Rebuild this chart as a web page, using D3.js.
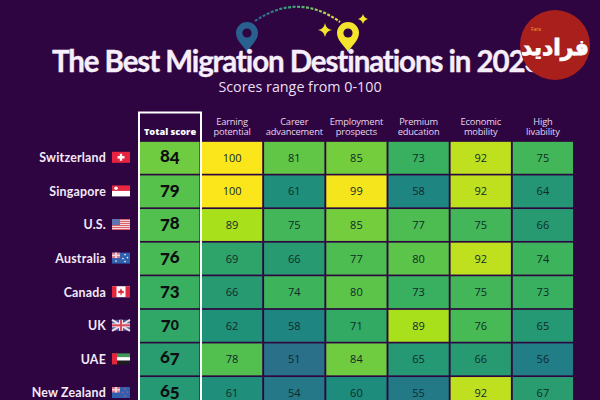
<!DOCTYPE html>
<html><head><meta charset="utf-8">
<script src="https://cdn.jsdelivr.net/npm/d3@7"></script>
<style>html,body{margin:0;padding:0;background:#2e0540;overflow:hidden}svg{display:block}text{font-family:"Open Sans",sans-serif}</style>
</head><body><svg id="c" width="600" height="400"></svg>
<script>
const countries=["Switzerland","Singapore","U.S.","Australia","Canada","UK","UAE","New Zealand"];
const flagCodes=["ch","sg","us","au","ca","uk","ae","nz"];
const totals=[84,79,78,76,73,70,67,65];
const headers=[["Earning","potential"],["Career","advancement"],["Employment","prospects"],["Premium","education"],["Economic","mobility"],["High","livability"]];
const earning=[100,100,89,69,66,62,78,61];
const career=[81,61,75,66,74,58,51,54];
const employment=[85,99,85,77,80,71,84,60];
const education=[73,58,77,80,73,89,65,55];
const mobility=[92,92,75,92,75,76,66,92];
const livability=[75,64,66,74,73,65,56,67];
const series=[earning,career,employment,education,mobility,livability];
const colorStops=[50,56,60,66,73,78,85,89,92,100];
const colorRange=["#2a6d88","#217d86","#1d8c7c","#279a72","#38b05f","#52c04e","#74cd3c","#a8e01c","#bfe01e","#fbe61c"];

const svg=d3.select("#c");
const bg="#2e0540";
const color=d3.scaleLinear().domain(colorStops).range(colorRange);
const y=d3.scaleBand().domain(countries).range([141,141+33.6*8]).paddingInner(0.05).paddingOuter(0.025);
const x=d3.scaleBand().domain(d3.range(6)).range([201,574]).paddingInner(0.03).paddingOuter(0.015);
const cx=d3.scaleBand().domain(["t"]).range([140,199.5]);

const pin=(px,fill)=>{
  const g=svg.append("g").attr("transform",`translate(${px},38)`);
  g.append("path").attr("d","M0,14 C-3,8 -11,3 -11,-5 A11,11 0 1 1 11,-5 C11,3 3,8 0,14Z").attr("fill",fill);
  g.append("circle").attr("cy",-5).attr("r",4.6).attr("fill",bg);
};
pin(247,"#28608f");pin(348,"#f5e42c");
const defs=svg.append("defs");
const lg=defs.append("linearGradient").attr("id","arc").attr("x1",0).attr("x2",1);
[["0","#28608f"],["0.5","#3fae7a"],["1","#f0e23a"]].forEach(s=>lg.append("stop").attr("offset",s[0]).attr("stop-color",s[1]));
svg.append("path").attr("d","M255,21 Q298,-8 340,22").attr("fill","none").attr("stroke","url(#arc)").attr("stroke-width",2.2).attr("stroke-dasharray","3 1.5");
const star=(sx,sy,r)=>svg.append("path").attr("transform",`translate(${sx},${sy})`).attr("fill","#f5e42c")
  .attr("d",`M0,${-r} Q1,-1 ${r},0 Q1,1 0,${r} Q-1,1 ${-r},0 Q-1,-1 0,${-r}Z`);
star(325,30,7);star(363,19,5);

svg.append("text").attr("x",52).attr("y",72).attr("font-size",29.5).attr("font-weight",700)
  .style("font-family","Lato,sans-serif").attr("letter-spacing",-1.1).attr("stroke","#f6eefa").attr("stroke-width",0.35).attr("fill","#f6eefa").text("The Best Migration Destinations in 2023");
svg.append("text").attr("x",300).attr("y",92).attr("text-anchor","middle").attr("font-size",14.3).attr("fill","#eadff2").text("Scores range from 0-100");

headers.forEach((h,i)=>{
  h.forEach((t,k)=>svg.append("text").attr("x",x(i)+x.bandwidth()/2).attr("y",124.5+k*10).attr("text-anchor","middle")
    .attr("font-size",9.3).attr("letter-spacing",-0.15).attr("fill","#e6d6f0").text(t));
});
svg.append("text").attr("x",170).attr("y",135).attr("text-anchor","middle").attr("font-size",9.2).attr("font-weight",800).attr("fill","#fff").text("Total score");

svg.append("g").selectAll("rect").data(countries).join("rect")
  .attr("x",cx("t")).attr("width",cx.bandwidth()).attr("y",d=>y(d)).attr("height",y.bandwidth())
  .attr("fill",(d,i)=>color(totals[i]));
// old-style numerals: each digit gets its own shift and size
const low="34579";
const small="012";
const tot=svg.append("g").selectAll("text").data(countries).join("text")
  .attr("x",cx("t")+cx.bandwidth()/2).attr("y",d=>y(d)+y.bandwidth()/2+4).attr("text-anchor","middle")
  .attr("font-size",17).attr("font-weight",900).style("font-family","Lato,sans-serif").attr("fill","#0d0d12");
tot.each(function(d,i){
  const t=d3.select(this);let shift=0;
  String(totals[i]).split("").forEach(ch=>{
    const target=low.includes(ch)?2:0;
    t.append("tspan").attr("dy",target-shift).attr("font-size",small.includes(ch)?14:17).text(ch);
    shift=target;
  });
});

series.forEach((vals,i)=>{
  const g=svg.append("g");
  g.selectAll("rect").data(vals).join("rect").attr("x",x(i)).attr("width",x.bandwidth())
    .attr("y",(d,r)=>y(countries[r])).attr("height",y.bandwidth()).attr("fill",d=>color(d));
  g.selectAll("text").data(vals).join("text").attr("x",x(i)+x.bandwidth()/2).attr("y",(d,r)=>y(countries[r])+y.bandwidth()/2+4)
    .attr("text-anchor","middle").attr("font-size",11).attr("fill","#0f2a2a").text(d=>d);
});

svg.append("rect").attr("x",139).attr("y",112.5).attr("width",62).attr("height",320).attr("fill","none").attr("stroke","#fff").attr("stroke-width",2);

svg.append("g").selectAll("text").data(countries).join("text").attr("x",106).attr("y",d=>y(d)+y.bandwidth()/2+4.4)
  .attr("text-anchor","end").attr("font-size",12.4).attr("font-weight",700).style("font-family","Lato,sans-serif").attr("letter-spacing",0.2).attr("fill","#f3e9f8").text(d=>d);

const flagH=11;
const flags={
  ch:f=>{rc(f,0,0,18,11,"#e8233f");rc(f,7.8,2,2.4,7,"#fff");rc(f,5.5,4.3,7,2.4,"#fff");},
  sg:f=>{rc(f,0,0,18,5.5,"#e8283f");rc(f,0,5.5,18,5.5,"#fff");f.append("circle").attr("cx",4).attr("cy",2.8).attr("r",1.8).attr("fill","#fff");},
  us:f=>{rc(f,0,0,18,11,"#f3d5d8");d3.range(0,6).forEach(k=>rc(f,0,k*2,18,1,"#d9606c"));rc(f,0,0,8,6,"#5f72b0");},
  au:f=>{rc(f,0,0,18,11,"#2f5fae");rc(f,0,0,8,5.5,"#d97a90");rc(f,3,0,2,5.5,"#f3d5d8");rc(f,0,2,8,1.5,"#f3d5d8");[[13,2],[15.5,5],[11,6],[13,9],[4,8.5]].forEach(p=>f.append("circle").attr("cx",p[0]).attr("cy",p[1]).attr("r",.8).attr("fill","#fff"));},
  ca:f=>{rc(f,0,0,18,11,"#fff");rc(f,0,0,4.5,11,"#e3263c");rc(f,13.5,0,4.5,11,"#e3263c");f.append("path").attr("d","M9,2 L10.5,5 L12,4.5 L11.5,7 L9.5,7 L9.5,9 L8.5,9 L8.5,7 L6.5,7 L6,4.5 L7.5,5Z").attr("fill","#e3263c");},
  uk:f=>{rc(f,0,0,18,11,"#4a5a9e");f.append("path").attr("d","M0,0L18,11M18,0L0,11").attr("stroke","#f0dfe6").attr("stroke-width",2);rc(f,7,0,4,11,"#f0dfe6");rc(f,0,3.5,18,4,"#f0dfe6");rc(f,8,0,2,11,"#d8485c");rc(f,0,4.5,18,2,"#d8485c");},
  ae:f=>{rc(f,0,0,18,3.7,"#3f9a5a");rc(f,0,3.7,18,3.6,"#fff");rc(f,0,7.3,18,3.7,"#1c1c1c");rc(f,0,0,5,11,"#e3263c");},
  nz:f=>{rc(f,0,0,18,11,"#2f5fae");rc(f,0,0,8,5.5,"#d97a90");rc(f,3,0,2,5.5,"#f3d5d8");rc(f,0,2,8,1.5,"#f3d5d8");[[13,2],[15.5,5],[11,5.5],[13,9]].forEach(p=>f.append("circle").attr("cx",p[0]).attr("cy",p[1]).attr("r",.8).attr("fill","#e8506a"));}
};
function rc(f,a,b,w,h,c){return f.append("rect").attr("x",a).attr("y",b).attr("width",w).attr("height",h).attr("fill",c);}
countries.forEach((c,i)=>{
  const f=svg.append("g").attr("transform",`translate(112,${y(c)+y.bandwidth()/2-flagH/2-0.5})`);
  flags[flagCodes[i]](f);
});

svg.append("circle").attr("cx",555).attr("cy",45).attr("r",35).attr("fill","#a91f1c");
svg.append("text").attr("x",555).attr("y",55).attr("text-anchor","middle").attr("font-size",22).attr("font-weight",700).style("font-family","'DejaVu Sans',sans-serif").attr("fill","#fff").attr("stroke","#fff").attr("stroke-width",0.8).text("فرادید");
svg.append("text").attr("x",536).attr("y",31).attr("text-anchor","middle").attr("font-size",5).attr("fill","#f0a030").text("Fara");
</script></body></html>
